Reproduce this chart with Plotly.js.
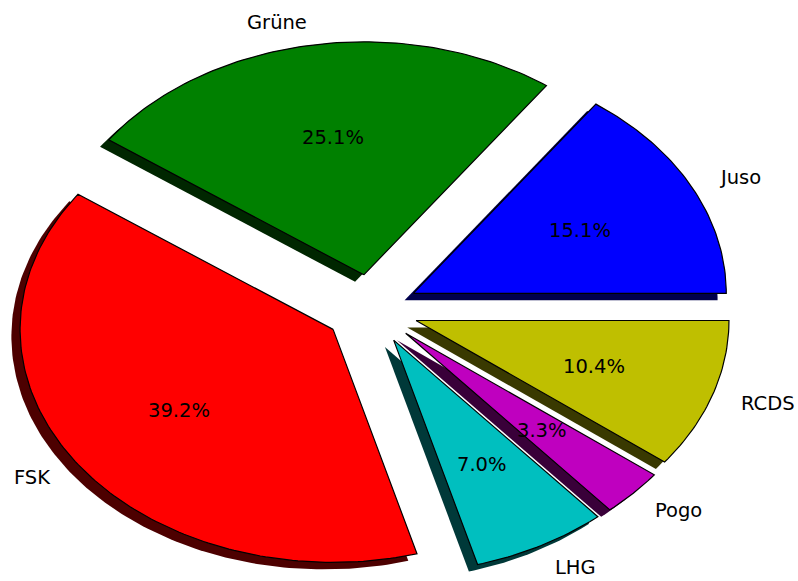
<!DOCTYPE html>
<html>
<head>
<meta charset="utf-8">
<script src="https://cdn.plot.ly/plotly-3.0.1.min.js"></script>
<style>html,body{margin:0;padding:0;background:#fff;}#chart{width:798px;height:581px;}</style>
</head>
<body>
<div id="chart"></div>
<script>
// ---- data ----
const labels = ['Juso', 'Grüne', 'FSK', 'LHG', 'Pogo', 'RCDS'];
const percents = [15.1, 25.1, 39.2, 7.0, 3.3, 10.4];
const explode = [0.15, 0.15, 0.15, 0.15, 0.15, 0.15];
const colors = ['#0000ff', '#008000', '#ff0000', '#00bfbf', '#bf00bf', '#bfbf00'];
const shadowColors = ['#00004d', '#002600', '#4d0000', '#003939', '#390039', '#393900'];

// ---- geometry (pixel frame of the stretched pie) ----
const W = 798, H = 581;
const RX = 313, RY = 233;      // pixel radii (pie is stretched)
const CX = 371.5, CY = 309.3;  // pixel position of the unexploded centre
const SHX = -8.7 / RX, SHY = -7 / RY; // shadow shift in data units
const labelDist = 1.1, pctDist = 0.6;
const FONT = {family: 'DejaVu Sans', size: 19.5, color: '#000000'};

const total = percents.reduce((a, b) => a + b, 0);
const traces = [];
const shadowTraces = [];
const annotations = [];
let start = 0;
percents.forEach((p, i) => {
  const span = p / total * 2 * Math.PI;
  const t1 = start, t2 = start + span, tm = (t1 + t2) / 2;
  start = t2;
  const ox = explode[i] * Math.cos(tm), oy = explode[i] * Math.sin(tm);
  const xs = [ox], ys = [oy];
  const n = Math.max(8, Math.ceil(span / (Math.PI / 180)));
  for (let k = 0; k <= n; k++) {
    const t = t1 + span * k / n;
    xs.push(ox + Math.cos(t));
    ys.push(oy + Math.sin(t));
  }
  xs.push(ox); ys.push(oy);
  shadowTraces.push({
    type: 'scatter', mode: 'lines', x: xs.map(v => v + SHX), y: ys.map(v => v + SHY),
    fill: 'toself', fillcolor: shadowColors[i], line: {width: 0, color: shadowColors[i]},
    hoverinfo: 'skip', showlegend: false
  });
  traces.push({
    type: 'scatter', mode: 'lines', x: xs, y: ys, name: labels[i],
    fill: 'toself', fillcolor: colors[i], line: {width: 1.2, color: '#000000'},
    hoverinfo: 'name', showlegend: false
  });
  const lx = ox + labelDist * Math.cos(tm), ly = oy + labelDist * Math.sin(tm);
  annotations.push({
    x: lx, y: ly, xref: 'x', yref: 'y', text: labels[i], showarrow: false,
    xanchor: lx > 0 ? 'left' : 'right', yanchor: 'middle',
    xshift: lx > 0 ? -3 : 2, yshift: -1,
    font: FONT
  });
  annotations.push({
    x: ox + pctDist * Math.cos(tm), y: oy + pctDist * Math.sin(tm), xref: 'x', yref: 'y',
    text: p.toFixed(1) + '%', showarrow: false, xanchor: 'center', yanchor: 'middle',
    yshift: -1,
    font: FONT
  });
});

const layout = {
  width: W, height: H,
  margin: {l: 0, r: 0, t: 0, b: 0, pad: 0},
  paper_bgcolor: '#ffffff', plot_bgcolor: '#ffffff',
  xaxis: {range: [-CX / RX, (W - CX) / RX], visible: false, fixedrange: true},
  yaxis: {range: [-(H - CY) / RY, CY / RY], visible: false, fixedrange: true},
  annotations: annotations,
  showlegend: false
};
Plotly.newPlot('chart', shadowTraces.concat(traces), layout, {displayModeBar: false, staticPlot: true});
</script>
</body>
</html>
